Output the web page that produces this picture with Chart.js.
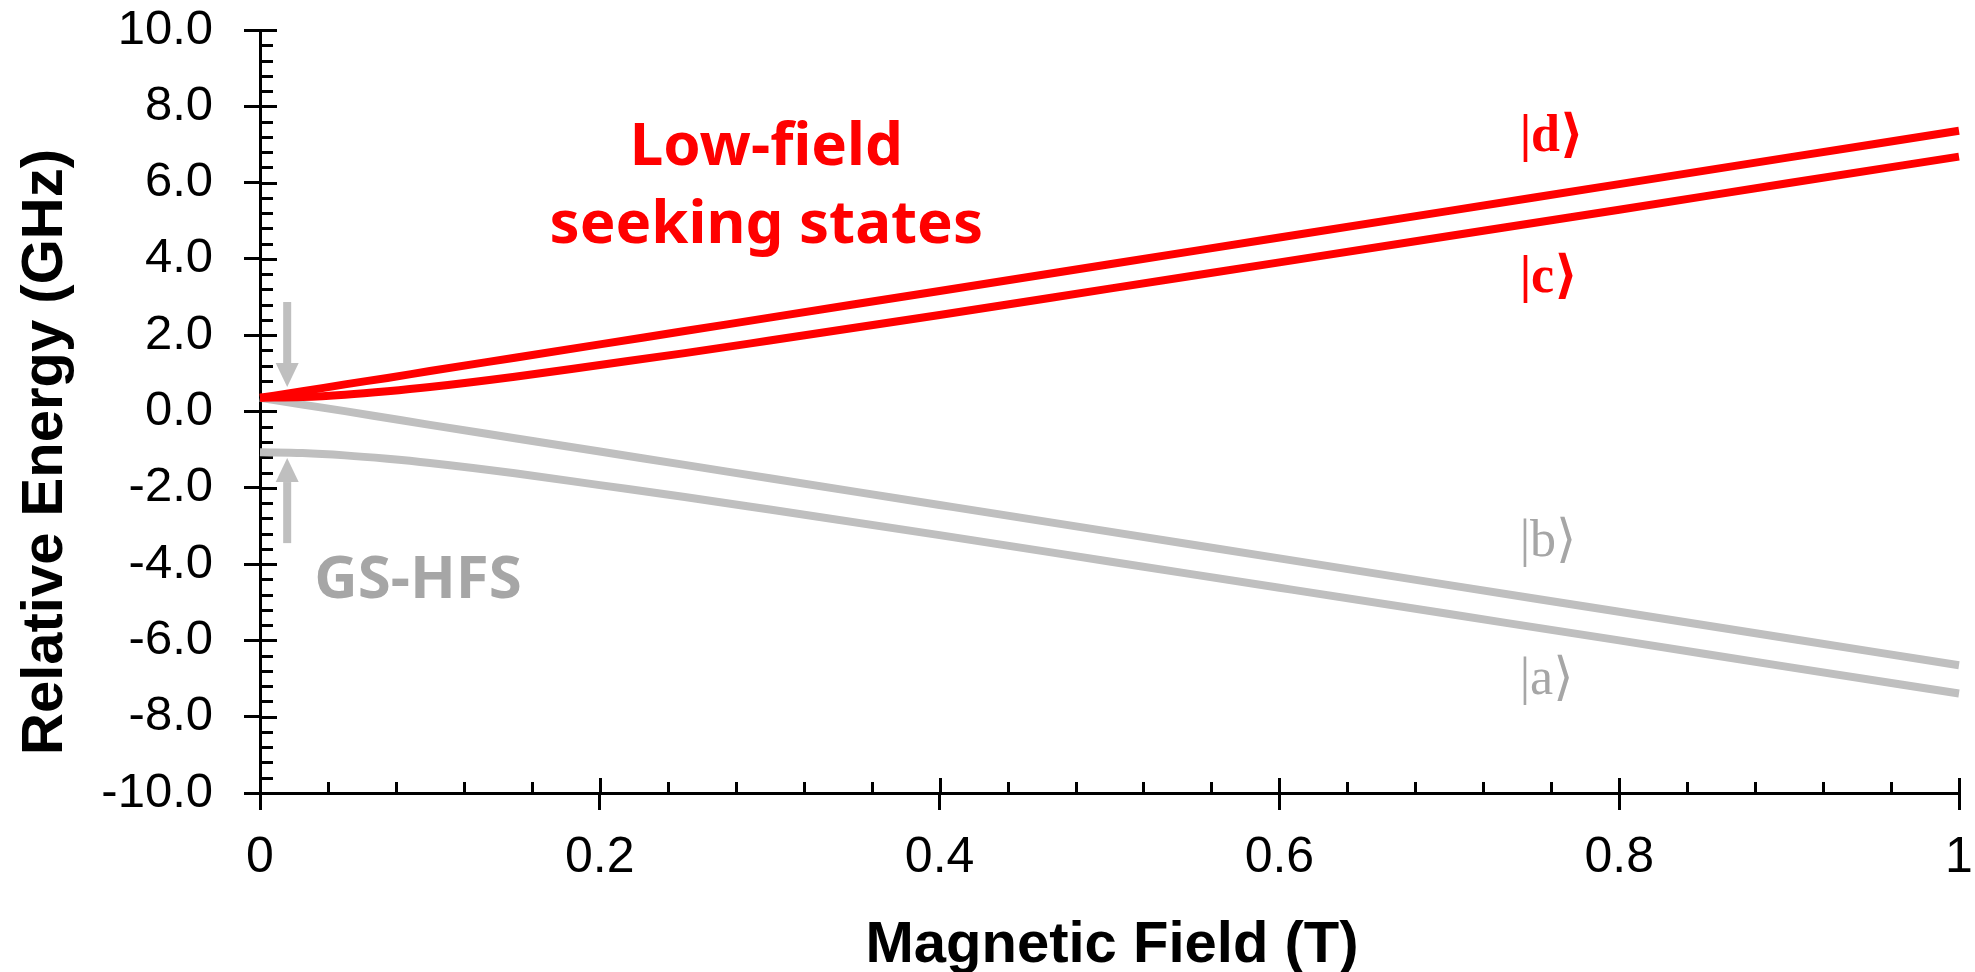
<!DOCTYPE html>
<html>
<head>
<meta charset="utf-8">
<script src="https://cdn.jsdelivr.net/npm/chart.js@4.4.1/dist/chart.umd.min.js"></script>
<style>
  html, body { margin: 0; padding: 0; background: #ffffff; }
  #wrap { width: 1975px; height: 972px; }
</style>
</head>
<body>
<div id="wrap"><canvas id="c" width="1975" height="972"></canvas></div>
<script>
// ---- data ----
const fieldT = [0, 0.025, 0.05, 0.075, 0.1, 0.15, 0.2, 0.25, 0.3, 0.4, 0.5, 0.6, 0.7, 0.8, 0.9, 1.0];
const stateD = [0.36, 0.53, 0.71, 0.88, 1.06, 1.41, 1.76, 2.11, 2.46, 3.16, 3.86, 4.56, 5.26, 5.96, 6.66, 7.36];
const stateC = [0.36, 0.38, 0.44, 0.53, 0.64, 0.91, 1.22, 1.53, 1.86, 2.53, 3.22, 3.91, 4.60, 5.29, 5.99, 6.68];
const stateB = [0.36, 0.18, 0.01, -0.17, -0.35, -0.70, -1.05, -1.40, -1.75, -2.45, -3.15, -3.85, -4.55, -5.25, -5.95, -6.65];
const stateA = [-1.07, -1.09, -1.15, -1.24, -1.35, -1.62, -1.93, -2.24, -2.57, -3.24, -3.93, -4.62, -5.31, -6.00, -6.70, -7.39];
const xTickLabels = ['0', '0.2', '0.4', '0.6', '0.8', '1'];
const yTickLabels = ['-10.0', '-8.0', '-6.0', '-4.0', '-2.0', '0.0', '2.0', '4.0', '6.0', '8.0', '10.0'];
const stateLabels = ['|d\u27E9', '|c\u27E9', '|b\u27E9', '|a\u27E9'];
const xTitle = 'Magnetic Field (T)';
const yTitle = 'Relative Energy (GHz)';
const noteRed = ['Low-field', 'seeking states'];
const noteGray = 'GS-HFS';

const RED = '#FF0000';
const GRAY = '#BFBFBF';
const GRAY_TXT = '#A6A6A6';

function pts(ys) { return fieldT.map((x, i) => ({ x: x, y: ys[i] })); }

const annot = {
  id: 'annot',
  beforeDatasetsDraw(chart) {
    const ctx = chart.ctx, xs = chart.scales.x, ys = chart.scales.y;
    const ax = chart.chartArea.left, ay = chart.chartArea.bottom;
    ctx.save();
    ctx.strokeStyle = '#000';
    ctx.lineWidth = 3;
    ctx.beginPath();
    for (let v = -10; v <= 10.0001; v += 0.4) {
      const p = Math.round(ys.getPixelForValue(v)) + 0.5;
      const major = Math.abs(v / 2 - Math.round(v / 2)) < 1e-6;
      ctx.moveTo(ax, p);
      ctx.lineTo(ax + (major ? 17 : 13), p);
    }
    for (let v = 0; v <= 1.0001; v += 0.04) {
      const p = Math.round(xs.getPixelForValue(v)) + 0.5;
      const major = Math.abs(v / 0.2 - Math.round(v / 0.2)) < 1e-6;
      ctx.moveTo(p, ay);
      ctx.lineTo(p, ay - (major ? 15 : 11));
    }
    ctx.stroke();
    ctx.restore();
  },
  afterDatasetsDraw(chart) {
    const ctx = chart.ctx, xs = chart.scales.x, ys = chart.scales.y;
    const X = v => xs.getPixelForValue(v), Y = v => ys.getPixelForValue(v);
    ctx.save();
    function arrow(xv, fromV, tipV) {
      const x = X(xv), y0 = Y(fromV), y1 = Y(tipV);
      const dir = y1 > y0 ? 1 : -1;
      const headLen = 24, headW = 23, shaftW = 8;
      ctx.fillStyle = GRAY;
      ctx.fillRect(x - shaftW / 2, Math.min(y0, y1 - dir * headLen), shaftW, Math.abs((y1 - dir * headLen) - y0));
      ctx.beginPath();
      ctx.moveTo(x, y1);
      ctx.lineTo(x - headW / 2, y1 - dir * headLen);
      ctx.lineTo(x + headW / 2, y1 - dir * headLen);
      ctx.closePath();
      ctx.fill();
    }
    arrow(0.016, 2.87, 0.64);
    arrow(0.016, -3.45, -1.22);

    ctx.fillStyle = RED;
    ctx.textAlign = 'center';
    ctx.textBaseline = 'alphabetic';
    ctx.font = 'bold 60px "Noto Sans", "Open Sans", sans-serif';
    ctx.fillText(noteRed[0], X(0.298), Y(6.46));
    ctx.fillText(noteRed[1], X(0.298), Y(4.41));
    ctx.fillStyle = GRAY_TXT;
    ctx.fillText(noteGray, X(0.093), Y(-4.89));

    ctx.textAlign = 'left';
    ctx.textBaseline = 'middle';
    ctx.fillStyle = RED;
    ctx.font = 'bold 52px "Liberation Serif", "DejaVu Serif", serif';
    ctx.fillText(stateLabels[0], X(0.7414), Y(7.19));
    ctx.fillText(stateLabels[1], X(0.7414), Y(3.49));
    ctx.fillStyle = GRAY_TXT;
    ctx.font = '52px "Liberation Serif", "DejaVu Serif", serif';
    ctx.fillText(stateLabels[2], X(0.7414), Y(-3.42));
    ctx.fillText(stateLabels[3], X(0.7414), Y(-7.04));

    ctx.fillStyle = '#000';
    ctx.font = 'bold 58px "Liberation Sans", Arial, sans-serif';
    ctx.textAlign = 'center';
    ctx.textBaseline = 'alphabetic';
    ctx.fillText(xTitle, 1112, 962);
    ctx.translate(62, 452);
    ctx.rotate(-Math.PI / 2);
    ctx.fillText(yTitle, 0, 0);
    ctx.restore();
  }
};

const lineDs = (label, ys, color) => ({
  label: label,
  data: pts(ys),
  borderColor: color,
  backgroundColor: color,
  borderWidth: 8,
  pointRadius: 0,
  fill: false,
  cubicInterpolationMode: 'monotone',
  borderCapStyle: 'butt',
  clip: false
});

new Chart(document.getElementById('c'), {
  type: 'line',
  data: {
    datasets: [
      lineDs('d', stateD, RED),
      lineDs('c', stateC, RED),
      lineDs('b', stateB, GRAY),
      lineDs('a', stateA, GRAY)
    ]
  },
  options: {
    responsive: false,
    animation: false,
    devicePixelRatio: 1,
    layout: { autoPadding: false, padding: { left: 0, top: 30, right: 16, bottom: 0 } },
    plugins: { legend: { display: false }, tooltip: { enabled: false } },
    scales: {
      x: {
        type: 'linear', min: 0, max: 1,
        afterFit(s) { s.height = 179; s.paddingLeft = 0; s.paddingRight = 0; s.paddingTop = 0; s.paddingBottom = 0; },
        ticks: {
          stepSize: 0.2, padding: 18, maxRotation: 0,
          color: '#000',
          font: { family: '"Liberation Sans", Arial, sans-serif', size: 50 },
          callback: (v, i) => xTickLabels[i]
        },
        grid: { drawOnChartArea: false, drawTicks: true, tickLength: 17, lineWidth: 3, color: '#000' },
        border: { display: true, width: 3, color: '#000' }
      },
      y: {
        type: 'linear', min: -10, max: 10,
        afterFit(s) { s.width = 260; s.paddingLeft = 0; s.paddingRight = 0; s.paddingTop = 0; s.paddingBottom = 0; },
        ticks: {
          stepSize: 2, padding: 31,
          color: '#000',
          font: { family: '"Liberation Sans", Arial, sans-serif', size: 49 },
          callback: (v, i) => yTickLabels[i]
        },
        grid: { drawOnChartArea: false, drawTicks: true, tickLength: 16, lineWidth: 3, color: '#000' },
        border: { display: true, width: 3, color: '#000' }
      }
    }
  },
  plugins: [annot]
});
</script>
</body>
</html>
